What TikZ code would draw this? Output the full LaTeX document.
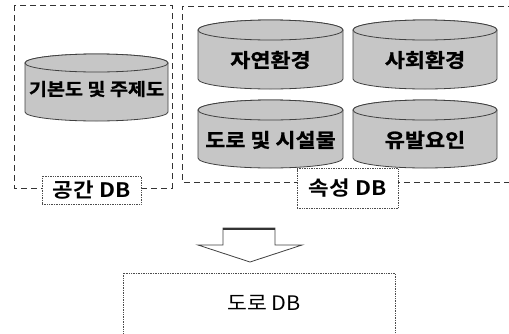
\documentclass[tikz,border=0pt]{standalone}
\usepackage{fontspec}
\setmainfont{Noto Sans CJK KR}[FakeStretch=1.08]
\newfontfamily\heavyfont{Noto Sans CJK KR}[UprightFont=* Bold, UprightFeatures={FakeBold=1.2}, FakeStretch=1.12]
\newfontfamily\tagfont{Noto Sans CJK KR}[UprightFont=* Bold, FakeStretch=1.12]
\begin{document}
\begin{tikzpicture}[x=1pt,y=-1pt,
  outer/.style={draw=black!80, line width=0.9pt, dash pattern=on 6pt off 4pt},
  tag/.style={draw=black!70, densely dotted, line width=0.7pt, fill=white, inner sep=0pt},
  cyl/.style={draw=black!75, line width=0.8pt, fill=gray!45},
  cyltext/.style={font=\heavyfont\fontsize{19.5}{19.5}\selectfont, inner sep=0pt},
  tagtext/.style={font=\tagfont\fontsize{20}{20}\selectfont},
  plaintext/.style={font=\fontsize{20}{20}\selectfont}
]
\useasboundingbox (0,0) rectangle (509,333);
\newcommand{\mycyl}[5]{%
  \pgfmathsetmacro{\cx}{(#1+#2)/2}\pgfmathsetmacro{\rx}{(#2-#1)/2}%
  \filldraw[cyl] (#1,#3) -- (#1,#4) arc[start angle=180,end angle=0,x radius=\rx,y radius=#5] -- (#2,#3) arc[start angle=0,end angle=-180,x radius=\rx,y radius=#5] -- cycle;
  \draw[cyl] (\cx,#3) ellipse[x radius=\rx,y radius=#5];
}
% outer dashed frames
\draw[outer] (14,5) rectangle (172,188);
\draw[outer] (514,6) -- (182,6) -- (182,182) -- (514,182);
% cylinders
\mycyl{25}{168}{63}{112}{9}
\node[cyltext, font=\heavyfont\fontsize{17.5}{17.5}\selectfont] (base) at (96.5,89) {기본도 및 주제도};
\mycyl{198}{343}{30}{79}{10}
\node[cyltext] (nat) at (270.5,60) {자연환경};
\mycyl{353}{497}{30}{79}{10}
\node[cyltext] (soc) at (425,60) {사회환경};
\mycyl{198}{343}{110}{158}{10}
\node[cyltext] (road) at (270.5,140) {도로 및 시설물};
\mycyl{353}{497}{110}{158}{10}
\node[cyltext] (ind) at (425,140) {유발요인};
% tags
\node[tag, minimum width=99pt, minimum height=28pt] (space) at (91.5,190) {};
\node[tagtext] at (space.center) {공간 DB};
\node[tag, minimum width=101pt, minimum height=40pt] (attr) at (347.5,188.5) {};
\node[tagtext] at (attr.center) {속성 DB};
% block arrow
\coordinate (arr) at (250,228);
\draw[black!75, line width=0.8pt, fill=white]
  (223,228) -- (275,228) -- (275,245) -- (302,245) -- (250,262) -- (198,245) -- (223,245) -- cycle;
\draw[black!80, line width=1.4pt] (223,229) -- (275,229);
% bottom box
\draw[black!70, densely dotted, line width=0.7pt] (123,340) -- (123,273) -- (395,273) -- (395,340);
\node[plaintext] (roaddb) at (264,303) {도로 DB};
\end{tikzpicture}
\end{document}
